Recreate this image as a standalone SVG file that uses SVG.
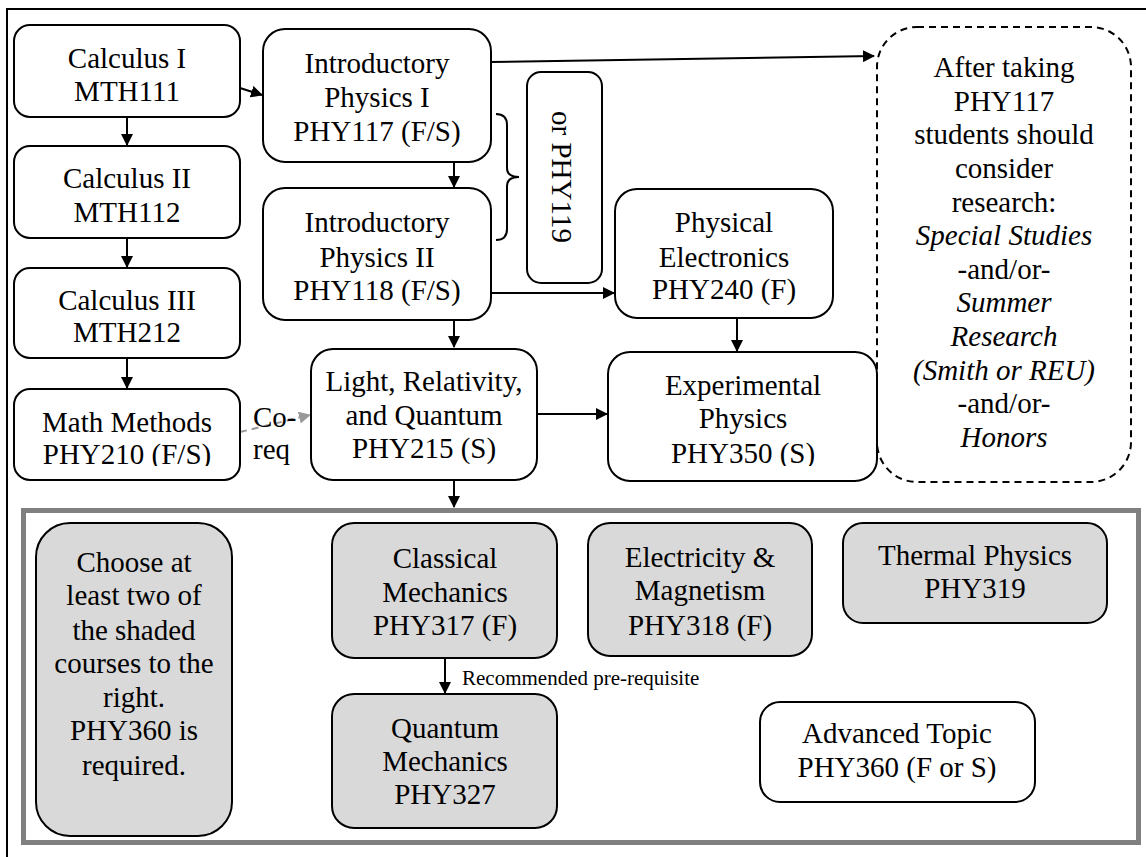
<svg xmlns="http://www.w3.org/2000/svg" width="1146" height="857" viewBox="0 0 1146 857" font-family="'Liberation Serif', 'Times New Roman', serif">
<style>
.box{fill:#fff;stroke:#000;stroke-width:2}
.sh{fill:#d9d9d9;stroke:#000;stroke-width:2}
text{font-family:'Liberation Serif','Times New Roman',serif}
.t{font-size:29px;fill:#000;text-anchor:middle}
.l{font-size:29px;fill:#000}
.it{font-style:italic}
.small{font-size:21px;fill:#000}
.ln{fill:none;stroke:#000;stroke-width:2}
</style>
<defs>
<marker id="ah" viewBox="0 0 12 12" refX="11" refY="6" markerWidth="12" markerHeight="12" markerUnits="userSpaceOnUse" orient="auto"><path d="M0,0 L12,6 L0,12 z" fill="#000"/></marker>
<marker id="ahg" viewBox="0 0 12 12" refX="11" refY="6" markerWidth="12" markerHeight="12" markerUnits="userSpaceOnUse" orient="auto"><path d="M0,0 L12,6 L0,12 z" fill="#999"/></marker>
<clipPath id="cut"><rect x="0" y="0" width="1146" height="466"/></clipPath>
</defs>
<rect width="1146" height="857" fill="#fff"/>
<path d="M7,857 V9 H1146" class="ln"/>

<g id="connectors">
<line x1="127" y1="117" x2="127" y2="145" class="ln" marker-end="url(#ah)"/>
<line x1="127" y1="238" x2="127" y2="267" class="ln" marker-end="url(#ah)"/>
<line x1="127" y1="358" x2="127" y2="388" class="ln" marker-end="url(#ah)"/>
<line x1="240" y1="88" x2="262" y2="95" class="ln" marker-end="url(#ah)"/>
<line x1="491" y1="62" x2="874" y2="56" class="ln" marker-end="url(#ah)"/>
<line x1="454" y1="162" x2="454" y2="187" class="ln" marker-end="url(#ah)"/>
<line x1="491" y1="293" x2="614" y2="293" class="ln" marker-end="url(#ah)"/>
<line x1="454" y1="320" x2="454" y2="347" class="ln" marker-end="url(#ah)"/>
<line x1="737" y1="318" x2="737" y2="351" class="ln" marker-end="url(#ah)"/>
<line x1="537" y1="414" x2="607" y2="414" class="ln" marker-end="url(#ah)"/>
<line x1="454" y1="480" x2="454" y2="507" class="ln" marker-end="url(#ah)"/>
<line x1="445" y1="658" x2="445" y2="693" class="ln" marker-end="url(#ah)"/>
<line x1="240" y1="432" x2="310" y2="415" fill="none" stroke="#999" stroke-width="2" stroke-dasharray="7,5" marker-end="url(#ahg)"/>
<path d="M496,114 Q507,114 507,125 L507,168 Q507,177 519,177 Q507,177 507,186 L507,229 Q507,240 496,240" class="ln"/>
<text class="small" x="462" y="685">Recommended pre-requisite</text>
<text class="l" x="253" y="427">Co-</text>
<text class="l" x="253" y="459" clip-path="url(#cut)">req</text>
</g>

<g id="calc1"><rect class="box" x="14" y="25" width="226" height="92" rx="16"/>
<text class="t" x="127" y="68">Calculus I</text><text class="t" x="127" y="101">MTH111</text></g>
<g id="calc2"><rect class="box" x="14" y="146" width="226" height="92" rx="16"/>
<text class="t" x="127" y="188">Calculus II</text><text class="t" x="127" y="222">MTH112</text></g>
<g id="calc3"><rect class="box" x="14" y="268" width="226" height="90" rx="16"/>
<text class="t" x="127" y="310">Calculus III</text><text class="t" x="127" y="342">MTH212</text></g>
<g id="mathmethods"><rect class="box" x="14" y="389" width="226" height="91" rx="16"/>
<text class="t" x="127" y="432">Math Methods</text><text class="t" x="127" y="464" clip-path="url(#cut)">PHY210 (F/S)</text></g>

<g id="phy117"><rect class="box" x="263" y="29" width="228" height="133" rx="22"/>
<text class="t" x="377" y="73">Introductory</text><text class="t" x="377" y="107">Physics I</text><text class="t" x="377" y="141">PHY117 (F/S)</text></g>
<g id="phy118"><rect class="box" x="263" y="188" width="228" height="132" rx="22"/>
<text class="t" x="377" y="232">Introductory</text><text class="t" x="377" y="267">Physics II</text><text class="t" x="377" y="300">PHY118 (F/S)</text></g>
<g id="phy119"><rect class="box" x="527" y="72" width="75" height="211" rx="14"/>
<text class="t" transform="translate(562,177) rotate(90)" x="0" y="10">or PHY119</text></g>
<g id="phy240"><rect class="box" x="615" y="189" width="218" height="129" rx="22"/>
<text class="t" x="724" y="232">Physical</text><text class="t" x="724" y="267">Electronics</text><text class="t" x="724" y="299">PHY240 (F)</text></g>
<g id="phy215"><rect class="box" x="311" y="349" width="226" height="131" rx="22"/>
<text class="t" x="424" y="391">Light, Relativity,</text><text class="t" x="424" y="425">and Quantum</text><text class="t" x="424" y="458">PHY215 (S)</text></g>
<g id="phy350"><rect class="box" x="608" y="352" width="269" height="129" rx="22"/>
<text class="t" x="743" y="395">Experimental</text><text class="t" x="743" y="428">Physics</text><text class="t" x="743" y="463" clip-path="url(#cut)">PHY350 (S)</text></g>
<g id="research"><rect x="877" y="27" width="254" height="455" rx="40" fill="none" stroke="#000" stroke-width="2" stroke-dasharray="7,5"/>
<text class="t" x="1004" y="77">After taking</text>
<text class="t" x="1004" y="111">PHY117</text>
<text class="t" x="1004" y="144">students should</text>
<text class="t" x="1004" y="178">consider</text>
<text class="t" x="1004" y="212">research:</text>
<text class="t it" x="1004" y="245">Special Studies</text>
<text class="t" x="1004" y="279">-and/or-</text>
<text class="t it" x="1004" y="312">Summer</text>
<text class="t it" x="1004" y="346">Research</text>
<text class="t it" x="1004" y="380">(Smith or REU)</text>
<text class="t" x="1004" y="413">-and/or-</text>
<text class="t it" x="1004" y="447">Honors</text></g>

<g id="electives"><rect x="23.5" y="510.5" width="1115" height="332" fill="none" stroke="#808080" stroke-width="5"/></g>
<g id="choose"><rect class="sh" x="36" y="523" width="196" height="313" rx="34"/>
<text class="t" x="134" y="572">Choose at</text><text class="t" x="134" y="605">least two of</text><text class="t" x="134" y="640">the shaded</text><text class="t" x="134" y="673">courses to the</text><text class="t" x="134" y="707">right.</text><text class="t" x="134" y="740">PHY360 is</text><text class="t" x="134" y="775">required.</text></g>
<g id="phy317"><rect class="sh" x="332" y="523" width="225" height="135" rx="22"/>
<text class="t" x="445" y="568">Classical</text><text class="t" x="445" y="602">Mechanics</text><text class="t" x="445" y="635">PHY317 (F)</text></g>
<g id="phy318"><rect class="sh" x="588" y="523" width="224" height="133" rx="22"/>
<text class="t" x="700" y="567">Electricity &amp;</text><text class="t" x="700" y="600">Magnetism</text><text class="t" x="700" y="635">PHY318 (F)</text></g>
<g id="phy319"><rect class="sh" x="843" y="523" width="264" height="100" rx="20"/>
<text class="t" x="975" y="565">Thermal Physics</text><text class="t" x="975" y="598">PHY319</text></g>
<g id="phy327"><rect class="sh" x="332" y="694" width="225" height="134" rx="22"/>
<text class="t" x="445" y="738">Quantum</text><text class="t" x="445" y="771">Mechanics</text><text class="t" x="445" y="804">PHY327</text></g>
<g id="phy360"><rect class="box" x="760" y="702" width="275" height="100" rx="20"/>
<text class="t" x="897" y="743">Advanced Topic</text><text class="t" x="897" y="777">PHY360 (F or S)</text></g>
</svg>
